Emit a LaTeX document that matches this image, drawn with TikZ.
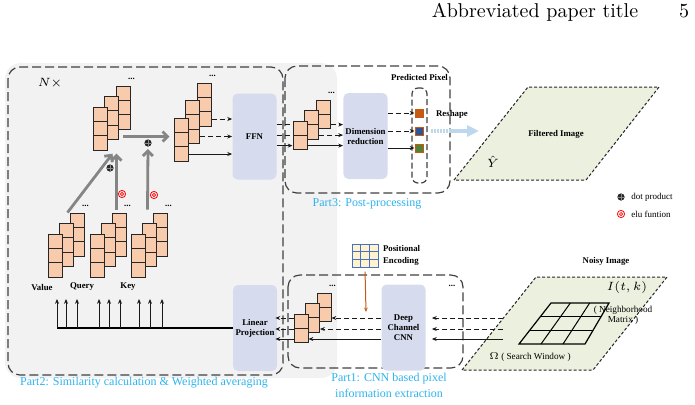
\documentclass[tikz,border=0pt]{standalone}
\usepackage{fontspec}
\newfontfamily\tnr{Liberation Serif}
\usepackage{tikz}
\usetikzlibrary{arrows.meta, positioning, calc}
\usepackage{xcolor}
\definecolor{bggray}{RGB}{242,242,242}
\definecolor{boxblue}{RGB}{214,220,237}
\definecolor{cellpeach}{RGB}{248,203,173}
\definecolor{planegreen}{RGB}{235,241,222}
\definecolor{partcyan}{RGB}{45,180,238}
\definecolor{pixorange}{RGB}{197,90,17}
\definecolor{pixblue}{RGB}{47,85,151}
\definecolor{pixgreen}{RGB}{84,130,53}
\definecolor{reshapeblue}{RGB}{189,215,238}
\definecolor{gridblue}{RGB}{68,114,196}
\definecolor{gridyellow}{RGB}{255,242,204}
\tikzset{
    cell/.style={
        rectangle,
        draw=black!85,
        line width=0.5pt,
        fill=cellpeach,
        minimum width=7pt,
        minimum height=7.2pt,
        inner sep=0pt
    },
    proc box/.style={
        rectangle,
        rounded corners=2.5pt,
        fill=boxblue,
        minimum width=22pt,
        minimum height=43pt,
        align=center,
        inner sep=1pt,
        font=\tnr\bfseries\fontsize{4.4}{5}\selectfont
    },
    part box/.style={
        draw=black!75,
        line width=0.6pt,
        dash pattern=on 4.5pt off 2pt,
        rounded corners=6pt
    },
    plane/.style={
        fill=planegreen,
        draw=black!85,
        line width=0.5pt,
        dash pattern=on 1.5pt off 1pt
    },
    arrow/.style={
        -{Stealth[length=2.4pt,width=2pt]},
        line width=0.5pt,
        draw=black!90
    },
    dash arrow/.style={
        arrow,
        dash pattern=on 2.5pt off 1.5pt
    },
    dash line/.style={
        line width=0.5pt,
        draw=black!90,
        dash pattern=on 2.5pt off 1.5pt
    },
    gray arrow/.style={
        -{Straight Barb[length=2.5pt,width=5pt]},
        line width=1.4pt,
        draw=black!48
    },
    tag/.style={
        font=\tnr\bfseries\fontsize{4.4}{5.5}\selectfont,
        inner sep=0.5pt,
        align=center
    },
    note/.style={
        font=\tnr\fontsize{4.5}{5}\selectfont,
        inner sep=0.5pt,
        align=center
    },
    part label/.style={
        font=\tnr\fontsize{6}{8}\selectfont,
        text=partcyan,
        align=center,
        inner sep=0.5pt
    },
    more/.style={
        font=\tnr\bfseries\fontsize{4.4}{5}\selectfont,
        inner sep=0pt,
        anchor=south
    },
    dot prod/.style={
        circle,
        fill=black!85,
        minimum size=3.6pt,
        inner sep=0pt,
        path picture={\draw[black!45, line width=0.35pt]
            (path picture bounding box.north) -- (path picture bounding box.south)
            (path picture bounding box.west) -- (path picture bounding box.east);}
    },
    elu/.style={
        circle,
        draw=red,
        line width=0.4pt,
        minimum size=3.6pt,
        inner sep=0pt,
        path picture={\draw[red, line width=0.3pt] (path picture bounding box.center) circle (0.8pt);}
    }
}

\begin{document}
\begin{tikzpicture}[
    x=0.5pt, y=-0.5pt,
    pixel/.style={rectangle, draw=pixorange, line width=0.5pt, minimum size=4pt, inner sep=0pt},
    pe cell/.style={rectangle, draw=gridblue, fill=gridyellow, line width=0.5pt,
                    minimum width=4.35pt, minimum height=3.85pt, inner sep=0pt},
    pe arrow/.style={-{Stealth[length=2.2pt,width=1.8pt]}, line width=0.5pt, draw=pixorange}
]
\useasboundingbox (0,0) rectangle (695,404);

% Page header
\node[font=\fontsize{10}{12}\selectfont, anchor=base] (header) at (535,17) {Abbreviated paper title};
\node[font=\fontsize{10}{12}\selectfont, anchor=base] (pageno) at (684,17) {5};

% Shaded area of part 2
\fill[bggray, rounded corners=8pt] (5,63) rectangle (337,378);

% Part boxes
\draw[part box] (8,67) rectangle (283,375);
\draw[part box] (285,66) rectangle (450,193);
\draw[part box] (288,275) rectangle (463,368);

% === BLOCKS ===
\node[proc box] (ffn) at (254.5,136.5) {FFN};
\node[proc box] (dimred) at (365.5,136) {Dimension\\reduction};
\node[proc box] (linproj) at (255,328) {Linear\\Projection};
\node[proc box] (cnn) at (403.5,327.5) {Deep\\Channel\\CNN};

% === IMAGES ===
\draw[plane] (454,180) -- (528,87) -- (659,87) -- (586,180) -- cycle;
\draw[plane] (462,370) -- (536,277) -- (667,277) -- (593,370) -- cycle;

% Neighborhood matrix
\coordinate (g-tl) at (551,303);
\coordinate (g-tr) at (609,303);
\coordinate (g-br) at (585,344);
\coordinate (g-bl) at (519,344);
\draw[line width=0.6pt] (g-tl) -- (g-tr) -- (g-br) -- (g-bl) -- cycle;
\foreach \t in {1,2} {
    \draw[line width=0.5pt] ($(g-tl)!\t/3!(g-tr)$) -- ($(g-bl)!\t/3!(g-br)$);
    \draw[line width=0.5pt] ($(g-tl)!\t/3!(g-bl)$) -- ($(g-tr)!\t/3!(g-br)$);
}

% === FEATURE STACKS ===
\foreach \stk/\xb/\yb/\rows/\dx/\dy in {attn/116/86/3/11.5/10.5, wavg/197/83/3/11.5/17.5,
        value/70/213/3/11/10.5, query/112/213/3/11/10.5, key/153/213/3/11/10.5,
        post/316/100/2/11.5/10.5, feat/317/293/2/11.5/10.5} {
    \foreach \col in {1,2,3} {
        \foreach \row in {1,...,\rows} {
            \node[cell] (\stk-\col-\row) at ({\xb+7-(\col-1)*\dx}, {\yb+7.2+(\row-1)*14.4+(\col-1)*\dy}) {};
        }
    }
    \node[more] (\stk-dots) at ([xshift=0.5pt, yshift=2.5pt]\stk-1-1.north east) {...};
}
\node[more, anchor=base] (feat-more) at (452,286) {...};

% Predicted pixel
\node[pixel, fill=pixorange] (px1) at (419,113) {};
\node[pixel, fill=pixblue] (px2) at (419,131) {};
\node[pixel, fill=pixgreen] (px3) at (419,148) {};
\node[part box, rounded corners=3pt, dash pattern=on 3pt off 1.5pt, minimum width=7.5pt,
      minimum height=47.5pt, inner sep=0pt] (pred) at (419.5,135.5) {};
\node[tag, above=2.5pt of pred] (pred-text) {Predicted Pixel};

% Positional encoding
\foreach \row in {1,2,3} {
    \foreach \col in {1,2,3} {
        \node[pe cell] (pe-\row-\col) at ({356.35+(\col-1)*8.7}, {247.85+(\row-1)*7.7}) {};
    }
}
\node[tag, anchor=west, align=left, font=\tnr\bfseries\fontsize{4.4}{6}\selectfont]
     (pe-text) at ([xshift=1.5pt]pe-2-3.east) {Positional\\Encoding};
\coordinate (pe-tip) at (366,312);
\draw[pe arrow] ([yshift=-2pt]pe-3-2.south) -- (pe-tip);

% Operators
\node[dot prod] (dp1) at (110,168) {};
\node[dot prod] (dp2) at (148,143) {};
\node[elu] (elu1) at (122,194) {};
\node[elu] (elu2) at (154,195) {};

% === ATTENTION ARROWS ===
\coordinate (attn-in) at ([xshift=2.5pt, yshift=-1.5pt]attn-3-3.south east);
\coordinate (q-top) at ([xshift=2.5pt, yshift=1.5pt]query-1-1.north west);
\coordinate (k-top) at ([xshift=-2.5pt, yshift=1.5pt]key-1-1.north west);
\coordinate (ab) at ([xshift=2pt, yshift=-2pt]attn-2-3.east);
\draw[gray arrow] ([xshift=-1pt]value-1-1.north west) -- (attn-in);
\draw[gray arrow] (q-top) -- (q-top |- attn-in);
\draw[gray arrow, shorten >=1pt] (k-top) -- (dp2.south);
\draw[gray arrow, shorten >=2pt] (ab) -- (ab -| wavg-3-2.west);

% Weighted features -> FFN
\foreach \col/\st in {1/dash arrow, 2/dash arrow, 3/arrow}
    \draw[\st] (wavg-\col-3.east) -- (wavg-\col-3.east -| ffn.west);

% FFN -> post-processing stack -> dimension reduction
\foreach \col in {1,2,3}
    \coordinate (lv\col) at ([yshift=-1.5pt]post-\col-2.east);
\foreach \col in {1,2}
    \draw[dash line] (ffn.east |- lv\col) -- (post-3-1.west |- lv\col);
\draw[arrow] (ffn.east |- lv3) -- (post-3-1.west |- lv3);
\foreach \col/\st in {1/dash arrow, 2/dash arrow, 3/arrow}
    \draw[\st] (lv\col) -- (lv\col -| dimred.west);

% Dimension reduction -> pixels
\foreach \p/\st in {1/dash arrow, 2/dash arrow, 3/arrow}
    \draw[\st] (dimred.east |- px\p) -- (px\p.west);

% Reshape
\coordinate (rs-a) at (431,131);
\coordinate (rs-b) at (450,131);
\coordinate (rs-c) at (479,131);
\draw[reshapeblue, line width=2.2pt, dash pattern=on 0.8pt off 0.7pt] (rs-a) -- (rs-b);
\draw[reshapeblue, line width=2.2pt, -{Triangle[length=6pt,width=5.5pt]}] (rs-b) -- (rs-c);
\node[tag] (reshape) at (452,114) {Reshape};

% Noisy image -> CNN -> features -> linear projection
\coordinate (n1) at (503,318);
\coordinate (n2) at (503,329);
\coordinate (n3) at (503,339);
\foreach \i/\st in {1/dash arrow, 2/dash arrow, 3/arrow} {
    \draw[\st, shorten >=3pt] (n\i) -- (n\i -| cnn.east);
    \draw[\st] (n\i -| cnn.west) -- (n\i -| feat-\i-2.east);
    \draw[\st, shorten >=-1pt] (n\i -| feat-3-1.west) -- (n\i -| linproj.east);
}

% Linear projection -> value, query, key
\foreach \x [count=\k] in {57,66,77,99,109,120,139,150,162} {
    \coordinate (up\k) at (\x,328);
    \coordinate (upt\k) at (\x,299);
}
\draw[line width=0.6pt] (linproj.west) -- (linproj.west -| up1);
\foreach \k in {1,...,9}
    \draw[arrow] (up\k) -- (upt\k);

% === TEXT ===
\node[font=\fontsize{6.3}{6.3}\selectfont, inner sep=0.5pt] (nx) at (50,83) {$N\times$};
\node[tag] (value-text) at (42,287) {Value};
\node[tag] (query-text) at (82,287) {Query};
\node[tag] (key-text) at (128,287) {Key};

\node[tag] (filtered) at (556,134) {Filtered Image};
\node[font=\fontsize{6}{6}\selectfont, inner sep=0.5pt] (yhat) at (493,162) {$\hat{Y}$};

\node[tag] (noisy) at (606,261) {Noisy Image};
\node[font=\fontsize{5.6}{5.6}\selectfont, inner sep=0.5pt] (itk) at (627,287) {$I(t,k)$};
\node[note, font=\tnr\fontsize{4.6}{5}\selectfont] (nbr) at (623,315) {( Neighborhood\\Matrix )};
\node[note, font=\tnr\fontsize{4.6}{5}\selectfont] (omega) at (530,357) {$\Omega$ ( Search Window )};

% Legend
\node[dot prod] (dp-key) at (621,197) {};
\node[note, anchor=west] (dp-text) at ([xshift=2.5pt]dp-key.east) {dot product};
\node[elu] (elu-key) at (621,214) {};
\node[note, anchor=west] (elu-text) at ([xshift=2.5pt]elu-key.east) {elu funtion};

% Part captions
\node[part label] (part2) at (144,383) {Part2: Similarity calculation \& Weighted averaging};
\node[part label] (part3) at (367,204) {Part3: Post-processing};
\node[part label] (part1) at (389,385) {Part1: CNN based pixel\\information extraction};

\end{tikzpicture}
\end{document}
